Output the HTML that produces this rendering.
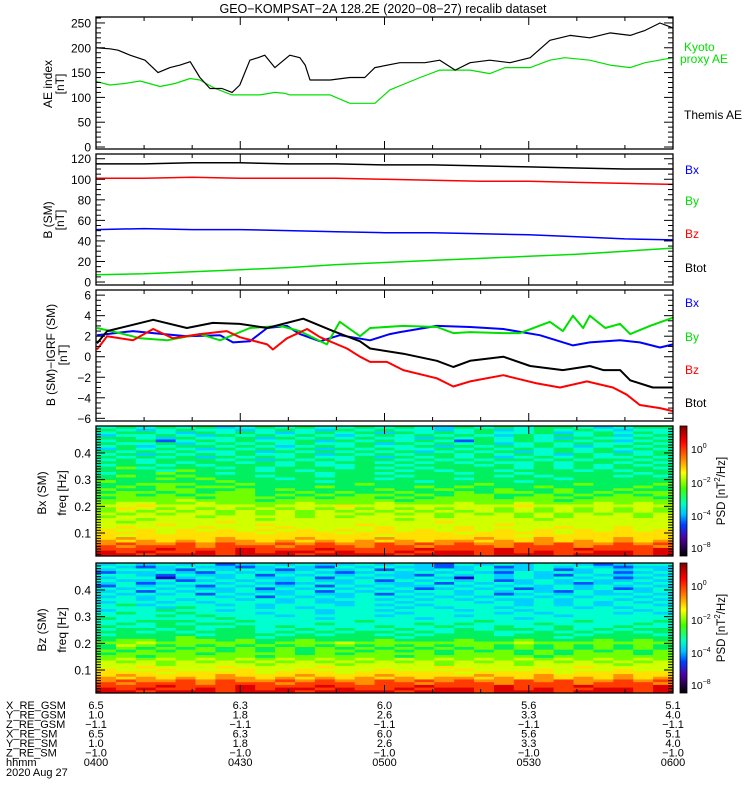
<!DOCTYPE html>
<html><head><meta charset="utf-8">
<style>
html,body{margin:0;padding:0;background:#fff;}
svg{display:block;font-family:"Liberation Sans",sans-serif;}
</style></head>
<body>
<svg id="fig" width="750" height="800" viewBox="0 0 750 800" xmlns="http://www.w3.org/2000/svg">
<defs>
<linearGradient id="cbar" x1="0" y1="0" x2="0" y2="1">
<stop offset="0" stop-color="#800000"/><stop offset="0.12" stop-color="#ff0000"/><stop offset="0.25" stop-color="#ff8000"/><stop offset="0.36" stop-color="#ffff00"/><stop offset="0.48" stop-color="#40ff00"/><stop offset="0.6" stop-color="#00ffc0"/><stop offset="0.68" stop-color="#00c0ff"/><stop offset="0.76" stop-color="#0040ff"/><stop offset="0.86" stop-color="#5000a0"/><stop offset="1" stop-color="#000000"/>
</linearGradient>
</defs>
<text x="383" y="13" font-size="12.5" text-anchor="middle">GEO−KOMPSAT−2A 128.2E (2020−08−27) recalib dataset</text>
<g id="layer"></g>
</svg>
<script>
// ---------- data ----------
const timeTickLabels = ["0400","0430","0500","0530","0600"];
const xGsm = ["6.5","6.3","6.0","5.6","5.1"];
const yGsm = ["1.0","1.8","2.6","3.3","4.0"];
const zGsm = ["−1.1","−1.1","−1.1","−1.1","−1.1"];
const xSm = ["6.5","6.3","6.0","5.6","5.1"];
const ySm = ["1.0","1.8","2.6","3.3","4.0"];
const zSm = ["−1.0","−1.0","−1.0","−1.0","−1.0"];

const aeThemisT = [0,2.9,4.6,7.1,10.2,12.9,15.4,17.5,19.6,21.6,23.7,26.2,28.3,29.9,32,33.7,35.1,37.2,40.3,42.4,43.5,44.5,48.7,52.8,55.9,58,63.2,68.4,71.5,74.7,77.8,81.9,86.1,90.3,94.4,98.6,102.7,106.9,111.1,114.2,117.3,120];
const aeThemisV = [200,198,195,185,175,150,160,165,172,140,118,118,110,125,175,180,185,160,185,180,165,135,135,140,140,160,170,170,175,155,170,175,170,180,215,225,220,230,225,235,250,240];
const aeKyotoT = [0,2.9,6,9.2,13.3,16.4,19.6,21.6,24.8,28.3,34.1,37.2,39.3,40.3,48.7,52.8,58,61.1,67.4,71.5,77.8,81.9,85.1,90.3,94.4,97.5,102.7,106.9,111.1,114.2,120];
const aeKyotoV = [132,125,128,133,122,128,138,135,118,105,105,110,108,105,105,88,88,115,140,155,155,148,160,160,175,180,175,165,160,170,180];

const bT = [0,10,20,30,40,50,60,70,80,90,100,110,120];
const bBlack = [115,115,116,116,115,115,114,114,113,112,111,110,110];
const bRed = [101,101,102,101,101,101,100,99,98,98,97,96,95];
const bBlue = [51,52,51,51,50,49,48,48,47,46,44,42,41];
const bGreen = [7,8,10,12,14,17,19,21,23,25,27,30,33];

const dTotT = [0.2,2.3,11.9,18.9,24.3,29.9,35.6,43.1,49.3,54.9,57,63.9,70.9,74.3,77.8,84.7,90.3,97.1,102.7,105.5,109,111.1,115.8,120];
const dTotV = [1.3,2.5,3.6,2.8,3.3,3.2,2.8,3.7,2.5,1.5,0.8,0.3,-0.4,-1.0,-0.4,0.0,-0.9,-1.3,-0.9,-1.3,-1.3,-2.3,-3.0,-3.0];
const dBzT = [0.2,2.3,7.7,11.9,16,21.6,27.2,29.9,35.6,36.8,39.7,43.9,46.6,52.2,54.9,57,60.5,63.9,70.9,74.3,77.8,84.7,88.2,91.7,96.5,102.1,107.5,110.4,113.1,117.3,120];
const dBzV = [0.7,2.0,1.6,2.7,1.8,2.2,2.5,1.9,1.2,0.7,1.8,2.7,1.9,0.8,0.0,-0.5,-0.5,-1.3,-2.1,-2.9,-2.4,-1.8,-2.2,-2.6,-3.0,-2.4,-3.0,-3.7,-4.7,-5.0,-5.3];
const dBxT = [0.2,7.7,11.9,18.9,25.8,28.5,32,35.6,39.7,42.4,46.6,50.7,57,61.1,63.2,70.9,77.8,84.7,92.3,99.2,102.7,109,113.1,117.3,120];
const dBxV = [2.1,2.5,2.3,2.0,2.1,1.4,1.5,2.8,3.0,2.2,1.5,2.1,1.6,2.2,2.4,3.0,2.9,2.7,2.1,1.1,1.4,1.6,1.4,0.9,1.2];
const dByT = [0.2,5,9.2,14.8,21.6,25.8,32,38.3,42.4,48,50.7,54.9,57,63.9,70.9,74.3,77.8,84.7,88.2,94.4,97.1,99.2,101.3,102.7,105.9,109,111.1,115.2,120];
const dByV = [2.8,2.3,1.8,1.6,2.2,1.6,2.8,3.0,2.5,1.2,3.4,2.0,2.8,3.0,2.9,2.3,2.4,2.3,2.3,3.4,2.5,4.0,2.8,4.0,2.8,3.2,2.2,3.0,3.8];

// spectrogram levels (0..b), rows from 0.5 Hz (top) down to ~0.01 Hz, 29 time columns
const bxSpecRows = [
"45454534545445454354545543455","54345443454354544345345454344","45543545434545354545445345454","34454354545434545454354545345",
"55435445354545443545454354454","45524545445354545425454545345","54453454545445354545345454454","45345545434545445354545434545",
"35454354545354544545454545454","54545445354545453454534545345","45354545445354545545454354545","54545354545445354545345454454",
"45455545354545545454554545545","55454554545455454545445455454","45545455545445545554545454545","56455545455545454555545454554",
"55546555454555545455455545455","45565545555455455545545555545","56556555455455545555454555454","55565655545555455545555455555",
"65555565555455554555545555555","55666556555556555556555565556","56565665555655556565556555565","65566556565555655655655655655",
"56656566556565565565665656566","66565666565656656566556565656","56666566656566565666566656665","66667666566666656666666566666",
"67766766667666766676676667676","77877777677787777777787777777","68767676767676767677676767676","67676767676767676767676767676",
"76767767676776767676767676767","67777677776767777677767677767","77677777677777767777776777777","76777787777777777877777777777",
"77787777877778777777877777777","78777877787777877787777877877","87878787878787878787878787878","88878888788878888878888788888",
"87888888888888788888878888888","89888898889888988889889888988","98989899898989898998989898989","9a99a9a99a9a99a9a9a99a9a99a9a",
"a9aaa9aaa9aaa9aa9aaa9aaa9aaa9","aaabaaabaaabaaaabaaabaaabaaab","babaabababbabaababbababaabbab","bbabbbabbbabbbbabbbabbbabbbab"];
const bzSpecRows = [
"34343423434334343243434432344","43234332343243433234234343233","34432434323434243434334234343","23343243434323434343243434234",
"44324334243434332434343243343","34413434334243434314343434234","43342343434334243434234343343","34234434323434334243434323434",
"24343243434243433434343434343","43434334243434342343423434234","34243434334243434434343243434","43434243434334243434234343343",
"34344434243434434343443434434","44343443434344343434334344343","34434344434334434443434343434","45344434344434343444434343443",
"44435444343444434344344434344","34454434444344344434434444434","45445444344344434444343444343","44454544434444344434444344444",
"54444454444344443444434444444","44555445444445444445444454445","45454554444544445454445444454","54455445454444544544544544544",
"45545455445454454454554545455","55454555454545545455445454545","45555455545455454555455545554","55556555455555545555555455555",
"56656656556555655565565556565","66766666566676666666676666666","57656565656565656566565656565","56565656565656565656565656565",
"65656656565665656565656565656","56666566665656666566656566656","66566666566666656666665666666","67676767676767676767676767676",
"76767676767676767676767676767","77767777677767777677767777677","77877787777877777877777787777","87787778778777877787778777877",
"88878888788878888878888788888","89888898889888988889889888988","98989899898989898998989898989","9a99a9a99a9a99a9a9a99a9a99a9a",
"a9aaa9aaa9aaa9aa9aaa9aaa9aaa9","aaabaaabaaabaaaabaaabaaabaaab","babaabababbabaababbababaabbab","bbabbbabbbabbbbabbbabbbabbbab"];
const levelColors = ["#1a0030","#2a00c0","#0050ff","#00d0ff","#00ffd0","#00f060","#70ff00","#d0ff00","#ffe000","#ff9000","#ff3c00","#e00000"];

// ---------- helpers ----------
const NS="http://www.w3.org/2000/svg";
const layer=document.getElementById('layer');
function mk(tag,attrs,parent){const e=document.createElementNS(NS,tag);for(const k in attrs)e.setAttribute(k,attrs[k]);(parent||layer).appendChild(e);return e;}
const X0=96,X1=673,T0=0,T1=120;
const xs=t=>X0+(t-T0)/(T1-T0)*(X1-X0);
function yScale(d0,d1,p0,p1){return v=>p0+(v-d0)/(d1-d0)*(p1-p0);}

function frame(top,bot,name){
  const r=mk('rect',{x:X0,y:top,width:X1-X0,height:bot-top,fill:'none',stroke:'#000','stroke-width':1.3});
  
  
  for(let m=0;m<=120;m+=10){
    const x=xs(m), L=(m%30===0)?8:4;
    mk('line',{x1:x,y1:bot,x2:x,y2:bot-L,stroke:'#000'});
    mk('line',{x1:x,y1:top,x2:x,y2:top+L,stroke:'#000'});
  }
}
function yTicks(ys,lo,hi,major,minor,labels,fmt){
  for(let v=lo;v<=hi+1e-9;v+=minor){
    const y=ys(v), isMaj=Math.abs(v/major-Math.round(v/major))<1e-6, L=isMaj?9:5;
    mk('line',{x1:X0,y1:y,x2:X0+L,y2:y,stroke:'#000'});
    mk('line',{x1:X1,y1:y,x2:X1-L,y2:y,stroke:'#000'});
  }
  labels.forEach(v=>{
    const t=mk('text',{x:91,y:ys(v)+4.5,'font-size':12,'text-anchor':'end'});
    t.textContent=fmt?fmt(v):String(v).replace('-','−');
    
    
  });
}
function line(ts,vs,ys,color,w,name){
  const d=ts.map((t,i)=>(i?'L':'M')+xs(t).toFixed(1)+','+ys(vs[i]).toFixed(1)).join('');
  const p=mk('path',{d:d,fill:'none',stroke:color,'stroke-width':w,'stroke-linejoin':'round'});
  
  
}
function rlabel(x,y,txt,name){
  const t=mk('text',{transform:`translate(${x},${y}) rotate(-90)`,'font-size':12,'text-anchor':'middle'});
  t.textContent=txt;
  
  
}
function tlabel(x,y,txt,color,name,size){
  const t=mk('text',{x:x,y:y,'font-size':size||12,fill:color});
  t.textContent=txt;
  
  
  return t;
}

// ---------- panel 1 : AE ----------
const y1=yScale(-4,262,149,17);
line(aeKyotoT,aeKyotoV,y1,'#00e000',1.2,'kyoto-ae-line');
line(aeThemisT,aeThemisV,y1,'#000',1.2,'themis-ae-line');
frame(17,149,'ae-panel');
yTicks(y1,0,260,50,10,[0,50,100,150,200,250]);
rlabel(52,84,'AE index','ae-y-axis-title');rlabel(64,84,'[nT]','ae-y-axis-unit');
tlabel(684,51,'Kyoto','#00e000','legend-kyoto');tlabel(680,63,'proxy AE','#00e000','legend-proxy-ae');
tlabel(684,119,'Themis AE','#000','legend-themis-ae');

// ---------- panel 2 : B (SM) ----------
const y2=yScale(-2.9,124.6,285,154);
line(bT,bBlack,y2,'#000',1.5,'b-black-line');
line(bT,bRed,y2,'#ff0000',1.5,'b-red-line');
line(bT,bBlue,y2,'#0000ff',1.5,'b-blue-line');
line(bT,bGreen,y2,'#00e000',1.5,'b-green-line');
frame(154,285,'b-panel');
yTicks(y2,0,120,20,5,[0,20,40,60,80,100,120]);
rlabel(52,220,'B (SM)','b-y-axis-title');rlabel(64,220,'[nT]','b-y-axis-unit');
tlabel(685,174,'Bx','#0000ff','legend-bx');tlabel(685,205,'By','#00e000','legend-by');
tlabel(685,238,'Bz','#ff0000','legend-bz');tlabel(685,272,'Btot','#000','legend-btot');

// ---------- panel 3 : B - IGRF ----------
const y3=yScale(-6.26,6.5,421,290);
line(dBxT,dBxV,y3,'#0000ff',2,'db-bx-line');
line(dByT,dByV,y3,'#00e000',2,'db-by-line');
line(dTotT,dTotV,y3,'#000',2,'db-btot-line');
line(dBzT,dBzV,y3,'#ff0000',2,'db-bz-line');
frame(290,421,'db-panel');
yTicks(y3,-6,6,2,0.5,[-6,-4,-2,0,2,4,6]);
rlabel(55,355,'B (SM)−IGRF (SM)','db-y-axis-title');rlabel(67,355,'[nT]','db-y-axis-unit');
tlabel(685,307,'Bx','#0000ff','legend-db-bx');tlabel(685,341,'By','#00e000','legend-db-by');
tlabel(685,374,'Bz','#ff0000','legend-db-bz');tlabel(685,407,'Btot','#000','legend-db-btot');

// ---------- spectrograms ----------
const F0=0.0138,F1=0.501;
function spec(rows,top,bot,name,label){
  const ys=yScale(F0,F1,bot,top);
  const nR=rows.length,nC=rows[0].length,df=(F1-F0)/nR,dt=(T1-T0)/nC;
  const g=mk('g',{});
  
  
  rows.forEach((row,i)=>{
    const fHi=F1-i*df,fLo=fHi-df;
    for(let j=0;j<nC;j++){
      const lv=parseInt(row[j],16);
      mk('rect',{x:xs(j*dt).toFixed(2),y:ys(fHi).toFixed(2),width:(xs((j+1)*dt)-xs(j*dt)+0.4).toFixed(2),height:(ys(fLo)-ys(fHi)+0.4).toFixed(2),fill:levelColors[lv]},g);
    }
  });
  frame(top,bot,name);
  for(let f=0.02;f<0.5;f+=0.01){
    const y=ys(f),L=Math.abs(f*10-Math.round(f*10))<1e-6?9:5;
    mk('line',{x1:X0,y1:y,x2:X0+L,y2:y,stroke:'#000'});
    mk('line',{x1:X1,y1:y,x2:X1-L,y2:y,stroke:'#000'});
  }
  [0.1,0.2,0.3,0.4].forEach(f=>{
    const t=mk('text',{x:91,y:ys(f)+4.5,'font-size':12,'text-anchor':'end'});
    t.textContent=f.toFixed(1);
    
    
  });
  const mid=(top+bot)/2;
  rlabel(46,mid+2,label,name+'-y-axis-title');rlabel(66,mid+2,'freq [Hz]',name+'-y-axis-unit');
  const cb=mk('rect',{x:680,y:top,width:7,height:bot-top,fill:'url(#cbar)',stroke:'#000','stroke-width':0.8});
  
  
  [["0",23],["−2",57],["−4",90],["−8",122]].forEach(([e,dy])=>{
    const t=mk('text',{x:691,y:top+dy+4,'font-size':10.5});
    
    
    t.textContent='10';
    const s=mk('tspan',{dy:-5,'font-size':7},t);s.textContent=e;
  });
  const p=mk('text',{transform:`translate(725,${mid}) rotate(-90)`,'font-size':11.5,'text-anchor':'middle'});
  
  
  p.textContent='PSD [nT';
  const s2=mk('tspan',{dy:-5,'font-size':8},p);s2.textContent='2';
  const s3=mk('tspan',{dy:5},p);s3.textContent='/Hz]';
}
spec(bxSpecRows,426,556,'bx-spectrogram','Bx (SM)');
spec(bzSpecRows,563,693,'bz-spectrogram','Bz (SM)');

// ---------- bottom ephemeris table ----------
const rowNames=["X_RE_GSM","Y_RE_GSM","Z_RE_GSM","X_RE_SM","Y_RE_SM","Z_RE_SM","hhmm"];
const rowVals=[xGsm,yGsm,zGsm,xSm,ySm,zSm,timeTickLabels];
rowNames.forEach((n,i)=>{
  const y=709+i*9.5;
  tlabel(6,y,n,'#000','ephemeris-row-label',11);
  rowVals[i].forEach((v,k)=>{
    const t=mk('text',{x:xs(k*30),y:y,'font-size':11,'text-anchor':'middle'});
    t.textContent=v;
    
    
  });
});
tlabel(6,776,'2020 Aug 27','#000','date-label',11);
</script>
</body></html>
